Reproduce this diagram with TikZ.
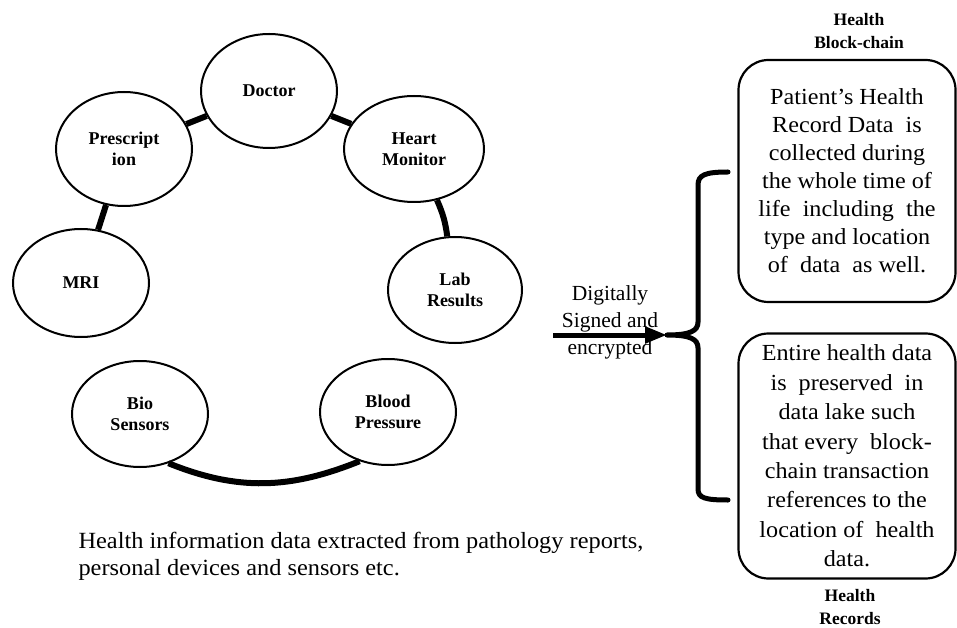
\documentclass[tikz,border=0pt]{standalone}
\usepackage{fontspec}
\setmainfont{Liberation Serif}
\newfontfamily\widefont{Liberation Serif}[FakeStretch=1.05,Ligatures=TeX]
\usetikzlibrary{arrows.meta,shapes.geometric}

\tikzset{
  source/.style={ellipse, draw, line width=2pt, inner sep=0pt,
    minimum width=136, minimum height=106, align=center,
    font=\fontsize{18}{21}\selectfont\bfseries},
  link/.style={line width=6pt},
  infobox/.style={draw, line width=2.2pt, rounded corners=30, align=center,
    minimum width=217, inner sep=0pt},
  caption/.style={align=center, font=\fontsize{17.5}{23}\selectfont\bfseries},
  plain/.style={font=\fontsize{21.5}{27}\selectfont}
}

\begin{document}
\begin{tikzpicture}[x=1pt, y=1pt]
  \useasboundingbox (0,0) rectangle (957,627);

  % data sources
  \node[source, minimum height=114] (doc)   at (269,536) {Doctor};
  \node[source, minimum height=114] (presc) at (124,478) {Prescript\\ion};
  \node[source, minimum width=140]  (heart) at (414,478) {Heart\\Monitor};
  \node[source, minimum height=108] (mri)   at (81,344)  {MRI};
  \node[source, minimum width=134]  (lab)   at (455,337) {Lab\\Results};
  \node[source] (bio) at (140,213) {Bio\\Sensors};
  \node[source] (bp)  at (388,215) {Blood\\Pressure};

  % links between sources
  \draw[link] (doc) -- (presc);
  \draw[link] (doc) -- (heart);
  \draw[link] (presc) -- (mri);
  \draw[link] (heart) to[bend left=8] (lab);
  \draw[link] (bio.-60) to[out=-22,in=-158] (bp.-120);

  % note below the sources
  \node[anchor=base west, align=left,
        font=\widefont\fontsize{23.2}{27}\selectfont] (note) at (75,52)
    {Health information data extracted from pathology reports,\\personal devices and sensors etc.};

  % signed transfer arrow and brace
  \coordinate (start) at (553,292);
  \coordinate (tip) at (667,292);
  \draw[line width=5pt, -{Triangle[length=22,width=16]}] (start) -- (tip);
  \node[plain, align=center] (sign) at (610,305) {Digitally\\Signed and\\encrypted};
  \draw[line width=5pt, line cap=round]
    (728,455) .. controls (705,455) and (698,452) .. (698,442)
    -- (698,305) .. controls (698,296) and (690,292) .. (tip)
    (tip) .. controls (690,292) and (698,288) .. (698,279)
    -- (698,138) .. controls (698,129) and (705,127) .. (728,127);

  % storage boxes
  \node[infobox, minimum height=242, font=\widefont\fontsize{23}{28}\selectfont]
    (chain) at (847,446)
    {Patient’s Health\\Record Data\ \ is\\collected during\\the whole time of\\life\ \ including\ \ the\\type and location\\of\ \ data\ \ as well.};
  \node[infobox, minimum height=245, font=\widefont\fontsize{23}{29.4}\selectfont]
    (records) at (847,171)
    {Entire health data\\is\ \ preserved\ \ in\\data lake such\\that every\ \ block-\\chain transaction\\references to the\\location of\ \ health\\data.};

  \node[caption] (chaincap) at (859,596) {Health\\Block-chain};
  \node[caption] (reccap) at (850,20) {Health\\Records};
\end{tikzpicture}
\end{document}
